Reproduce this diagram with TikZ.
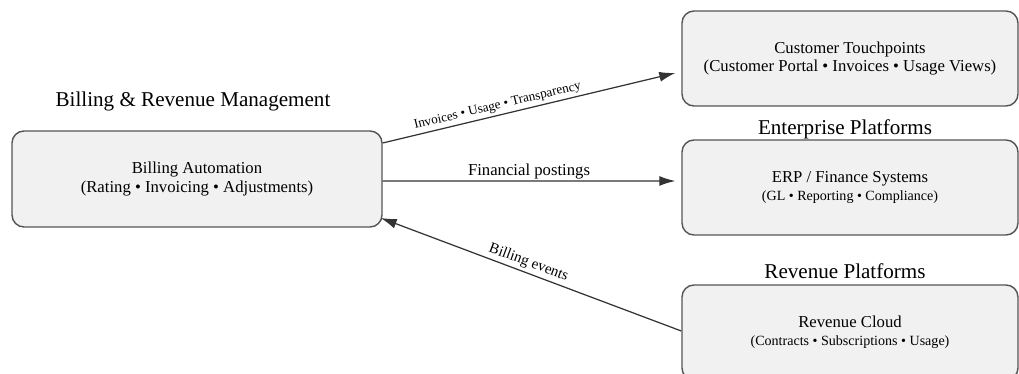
\documentclass[tikz,border=0pt]{standalone}
\usepackage{fontspec}
\setmainfont{Liberation Serif}
\usepackage{tikz}
\usetikzlibrary{arrows.meta,calc,positioning}
\definecolor{boxfill}{HTML}{F1F1F1}
\definecolor{boxline}{HTML}{555555}
\definecolor{linkgray}{HTML}{333333}
\tikzset{%
	sysbox/.style   = {draw=boxline, fill=boxfill, line width=0.8pt, rectangle, rounded corners=0.24cm, minimum width=6.72cm, minimum height=1.9cm, align=center, font=\fontsize{9.5}{10.5}\selectfont},
	grouptitle/.style = {font=\fontsize{12}{14}\selectfont},
	link/.style     = {draw=linkgray, line width=0.7pt, >={Latex[length=3.2mm,width=2mm]}},
	linklabel/.style = {font=\fontsize{8}{9}\selectfont, inner sep=1.5pt},
}
\begin{document}
\begin{tikzpicture}
	\useasboundingbox (0,0) rectangle (20.38,7.48);
	\node[sysbox, minimum width=7.4cm, minimum height=1.92cm] (billing) at (3.94,3.90) {Billing Automation\\(Rating • Invoicing • Adjustments)};
	\node[grouptitle] (billingtitle) at (3.86,5.46) {Billing \& Revenue Management};
	
	\node[sysbox] (touch) at (17.0,6.31) {Customer Touchpoints\\(Customer Portal • Invoices • Usage Views)};
	
	\node[sysbox] (erp) at (17.0,3.73) {ERP / Finance Systems\\{\fontsize{8}{9}\selectfont (GL • Reporting • Compliance)}};
	\node[grouptitle] (erptitle) at (16.9,4.90) {Enterprise Platforms};
	
	\node[sysbox] (revenue) at (17.0,0.83) {Revenue Cloud\\{\fontsize{8}{9}\selectfont (Contracts • Subscriptions • Usage)}};
	\node[grouptitle] (revenuetitle) at (16.9,2.06) {Revenue Platforms};
	
	\draw[link,->] ([yshift=0.72cm]billing.east) -- ([xshift=-0.12cm,yshift=-0.29cm]touch.west) node[linklabel, font=\fontsize{7.5}{9}\selectfont, pos=0.4, above, sloped] {Invoices • Usage • Transparency};
	\draw[link,->] ([yshift=-0.04cm]billing.east) -- ([xshift=-0.12cm,yshift=0.13cm]erp.west) node[linklabel, font=\fontsize{9.5}{10}\selectfont, inner sep=0.5pt, midway, above] {Financial postings};
	\draw[link,<-] ([xshift=-0.04cm,yshift=-0.78cm]billing.east) -- ([yshift=0.03cm]revenue.west) node[linklabel, font=\fontsize{8.5}{10}\selectfont, pos=0.48, above, sloped] {Billing events};
\end{tikzpicture}
\end{document}
